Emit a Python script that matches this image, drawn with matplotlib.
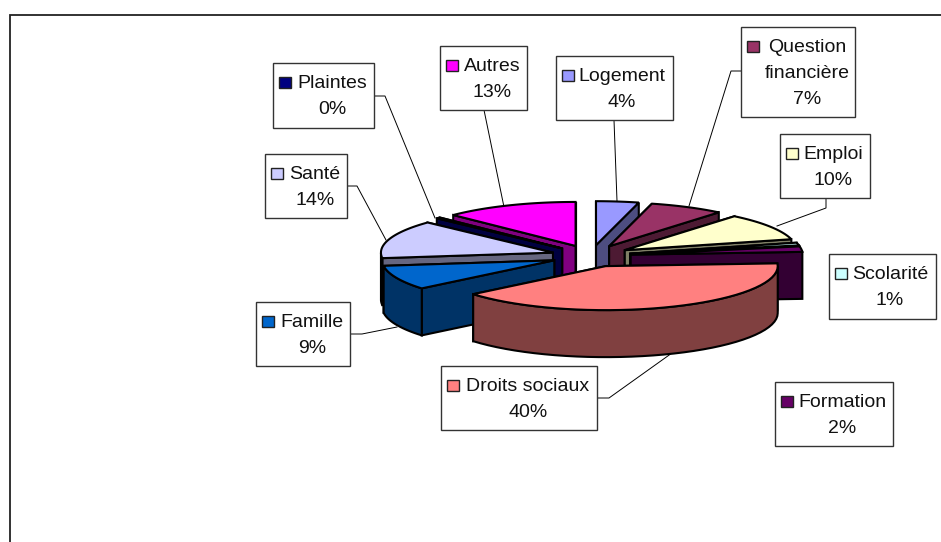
import numpy as np
import matplotlib
matplotlib.use("Agg")
import matplotlib.pyplot as plt
from matplotlib.patches import Polygon, Rectangle

plt.rcParams['font.family'] = ['Liberation Sans', 'DejaVu Sans']

# Data, clockwise from 12 o'clock
categories = ["Logement", "Question\nfinancière", "Emploi", "Scolarité", "Formation",
              "Droits sociaux", "Famille", "Santé", "Plaintes", "Autres"]
values = [4, 7, 10, 1, 2, 40, 9, 14, 0.4, 12.6]
colors = ["#9999FF", "#993366", "#FFFFCC", "#CCFFFF", "#660066",
          "#FF8080", "#0066CC", "#CCCCFF", "#000080", "#FF00FF"]

# Label boxes: x0, y0, x1, y1, centre of the text
boxes = [(556, 56, 673, 120, 622),
         (741, 27, 855, 117, 807),
         (780, 134, 870, 198, 833),
         (829, 254, 936, 319, 890),
         (775, 382, 893, 446, 842),
         (441, 366, 597, 430, 528),
         (256, 302, 350, 366, 312),
         (265, 154, 347, 218, 315),
         (273, 63, 374, 128, 332),
         (440, 46, 527, 110, 492)]

leaders = [[(614, 120), (617, 201)],
           [(741, 71), (731, 71), (689, 206)],
           [(826, 198), (826, 208), (777, 226)],
           None,
           None,
           [(597, 398), (609, 398), (672, 353)],
           [(350, 334), (362, 334), (397, 327)],
           [(347, 186), (357, 186), (386, 240)],
           [(374, 96), (385, 96), (435, 218)],
           [(484, 110), (504, 207)]]

# Pie geometry in pixels
cx, cy = 591, 256
rx, ry = 172, 44
explode_x, explode_y = 40, 10.9
depth = 47


def shade(color):
    rgb = np.array(matplotlib.colors.to_rgb(color))
    return tuple(rgb * 0.5)


fig = plt.figure(figsize=(9.41, 5.42), dpi=100, facecolor="white")
ax = fig.add_axes([0, 0, 1, 1])
ax.set_xlim(0, 941)
ax.set_ylim(542, 0)
ax.axis("off")

# Chart frame, runs off the right and the bottom of the picture
ax.plot([10, 10, 941], [542, 15, 15], color="#222222", lw=1.3, solid_joinstyle="miter")

for pts in leaders:
    if pts is not None:
        xs, ys = zip(*pts)
        ax.plot(xs, ys, color="black", lw=0.7, zorder=2)

fractions = np.array(values) / sum(values)
ends = np.cumsum(fractions) * 2 * np.pi
starts = ends - fractions * 2 * np.pi
mids = (starts + ends) / 2

# back to front
order = np.argsort(-np.cos(mids))
z = 3
for i in order:
    ax0 = cx + explode_x * np.sin(mids[i])
    ay0 = cy - explode_y * np.cos(mids[i])
    theta = np.linspace(starts[i], ends[i], 40)
    arc = np.column_stack([ax0 + rx * np.sin(theta), ay0 - ry * np.cos(theta)])
    apex = np.array([ax0, ay0])
    down = np.array([0, depth])
    side = shade(colors[i])

    # the cut face further back goes first, the nearer one covers it
    for corner in sorted((arc[0], arc[-1]), key=lambda p: p[1]):
        face = [apex, corner, corner + down, apex + down]
        ax.add_patch(Polygon(face, closed=True, fc=side, ec="black", lw=1.5, zorder=z))

    front = arc[np.cos(theta) <= 0]
    if len(front) > 1:
        wall = np.vstack([front, (front + down)[::-1]])
        ax.add_patch(Polygon(wall, closed=True, fc=side, ec="black", lw=1.5, zorder=z))

    top = np.vstack([apex, arc])
    ax.add_patch(Polygon(top, closed=True, fc=colors[i], ec="black", lw=1.5, zorder=z))
    z += 1

# Labels
for name, val, col, box in zip(categories, values, colors, boxes):
    x0, y0, x1, y1, tx = box
    ax.add_patch(Rectangle((x0, y0), x1 - x0, y1 - y0, fc="white", ec="#333333", lw=1.0, zorder=20))
    ax.add_patch(Rectangle((x0 + 6, y0 + 14), 12, 11, fc=col, ec="#222222", lw=1.0, zorder=21))
    lines = name.split("\n") + [f"{val:.0f}%"]
    for k, line in enumerate(lines):
        ax.text(tx, y0 + 25 + 26 * k, line, ha="center", va="baseline", fontsize=14,
                color="#111111", zorder=21)

fig.savefig("out.png", dpi=100)
